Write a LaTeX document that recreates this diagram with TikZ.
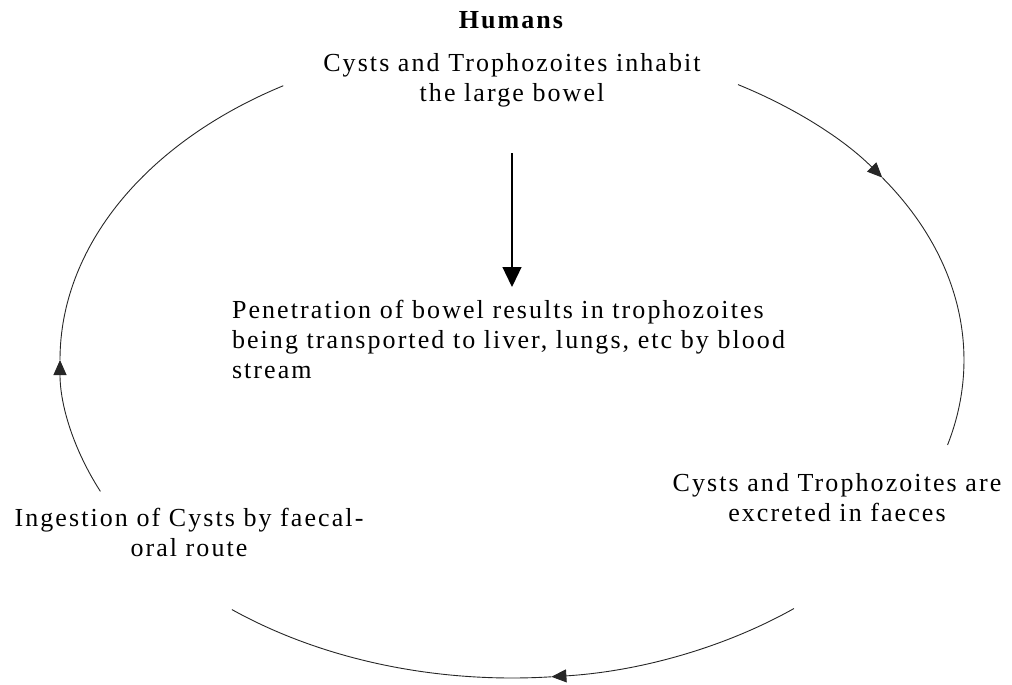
\documentclass[tikz,border=0pt]{standalone}
\usepackage{fontspec}
\setmainfont{Liberation Serif}[LetterSpace=8]
\usetikzlibrary{arrows.meta,calc}
\begin{document}
\begin{tikzpicture}[x=1pt,y=1pt,
  lbl/.style={font=\fontsize{26}{30}\selectfont, inner sep=0pt, outer sep=0pt},
  cyc/.style={line width=0.9pt, draw=black!85},
  bigtip/.style={-{Triangle[length=20pt,width=19pt]}, line width=1.3pt},
  smalltip/.style={-{Triangle[length=15pt,width=13pt]}}]
\useasboundingbox (0,0) rectangle (1012,-685);
\coordinate (C) at (512,-360);
% text nodes (anchor=base is the baseline of the last line)
\node[lbl, align=center, anchor=base] (top) at (512,-101)
  {\textbf{Humans}\\[13pt]Cysts and Trophozoites inhabit\\the large bowel};
\node[lbl, align=left, anchor=base west] (mid) at (232,-378)
  {Penetration of bowel results in trophozoites\\being transported to liver, lungs, etc by blood\\stream};
\node[lbl, align=center, anchor=base] (right) at (837,-521)
  {Cysts and Trophozoites are\\excreted in faeces};
\node[lbl, align=center, anchor=base] (left) at (189,-556)
  {Ingestion of Cysts by faecal-\\oral route};
% vertical arrow
\coordinate (v1) at (512,-153);
\coordinate (v2) at (512,-287);
\draw[bigtip] (v1) -- (v2);
% cycle arcs on an ellipse
\coordinate (r1) at ($(C)+(60:452pt and 318pt)$);
\coordinate (rA) at ($(C)+(35:452pt and 318pt)$);
\coordinate (b1) at ($(C)+(308.6:452pt and 318pt)$);
\coordinate (bA) at ($(C)+(275:452pt and 318pt)$);
\coordinate (l1) at ($(C)+(204.4:452pt and 318pt)$);
\coordinate (lA) at ($(C)+(180:452pt and 318pt)$);
\draw[cyc, smalltip] (r1) arc[start angle=60, end angle=35, x radius=452pt, y radius=318pt];
\draw[cyc] (rA) arc[start angle=35, end angle=-15.5, x radius=452pt, y radius=318pt];
\draw[cyc, smalltip] (b1) arc[start angle=308.6, end angle=275, x radius=452pt, y radius=318pt];
\draw[cyc] (bA) arc[start angle=275, end angle=231.7, x radius=452pt, y radius=318pt];
\draw[cyc, smalltip] (l1) arc[start angle=204.4, end angle=180, x radius=452pt, y radius=318pt];
\draw[cyc] (lA) arc[start angle=180, end angle=120.4, x radius=452pt, y radius=318pt];
\end{tikzpicture}
\end{document}
